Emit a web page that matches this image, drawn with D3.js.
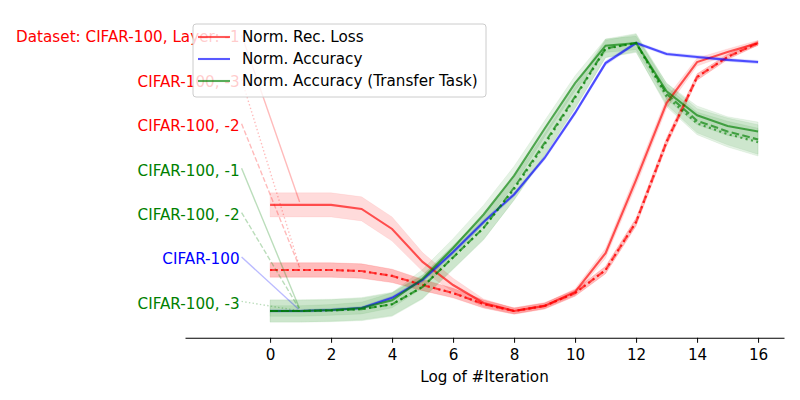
<!DOCTYPE html>
<html>
<head>
<meta charset="utf-8">
<script src="https://cdn.jsdelivr.net/npm/d3@7"></script>
<style>
  body { margin: 0; background: #fff; }
  text { font-family: "DejaVu Sans", sans-serif; }
</style>
</head>
<body>
<svg id="chart" width="800" height="400"></svg>
<script>
// --- DATA ---
const logIters = [0, 1, 2, 3, 4, 5, 6, 7, 8, 9, 10, 11, 12, 13, 14, 15, 16];
const xTicks = [0, 2, 4, 6, 8, 10, 12, 14, 16];

// normalized reconstruction loss, layers -1 / -2 / -3
const recLossL1 = [0.396, 0.396, 0.396, 0.381, 0.306, 0.183, 0.097, 0.030, 0.0, 0.019, 0.071, 0.216, 0.489, 0.776, 0.929, 0.966, 1.0];
const recLossL1Std = [0.045, 0.045, 0.045, 0.045, 0.045, 0.035, 0.025, 0.015, 0.010, 0.010, 0.012, 0.018, 0.022, 0.020, 0.015, 0.012, 0.010];
const recLossL2 = [0.153, 0.153, 0.153, 0.149, 0.131, 0.097, 0.067, 0.026, 0.0, 0.019, 0.067, 0.153, 0.332, 0.631, 0.873, 0.948, 1.0];
const recLossL2Std = [0.027, 0.027, 0.027, 0.027, 0.025, 0.021, 0.018, 0.015, 0.012, 0.012, 0.012, 0.014, 0.015, 0.015, 0.012, 0.010, 0.008];
const recLossL3 = [0.153, 0.153, 0.153, 0.149, 0.131, 0.097, 0.067, 0.026, 0.0, 0.019, 0.067, 0.153, 0.332, 0.631, 0.873, 0.948, 1.0];
const recLossL3Std = [0.027, 0.027, 0.027, 0.027, 0.025, 0.021, 0.018, 0.015, 0.012, 0.012, 0.012, 0.014, 0.015, 0.015, 0.012, 0.010, 0.008];

// normalized accuracy on the source task
const accSource = [0.0, 0.0, 0.004, 0.011, 0.049, 0.116, 0.220, 0.332, 0.435, 0.571, 0.739, 0.925, 1.0, 0.959, 0.948, 0.937, 0.929];
const accSourceStd = [0.006, 0.006, 0.006, 0.006, 0.007, 0.008, 0.008, 0.008, 0.008, 0.008, 0.008, 0.008, 0.006, 0.006, 0.006, 0.006, 0.006];

// normalized accuracy on the transfer task, layers -1 / -2 / -3
const accTransferL1 = [0.0, 0.0, 0.004, 0.011, 0.040, 0.120, 0.235, 0.360, 0.505, 0.680, 0.850, 0.990, 1.0, 0.820, 0.730, 0.690, 0.670];
const accTransferL1Std = [0.020, 0.020, 0.020, 0.022, 0.028, 0.035, 0.035, 0.035, 0.035, 0.030, 0.028, 0.025, 0.025, 0.030, 0.035, 0.035, 0.035];
const accTransferL2 = [0.0, 0.0, 0.002, 0.007, 0.025, 0.090, 0.200, 0.310, 0.460, 0.627, 0.800, 0.980, 1.0, 0.810, 0.710, 0.670, 0.640];
const accTransferL2Std = [0.042, 0.042, 0.042, 0.043, 0.045, 0.045, 0.045, 0.045, 0.045, 0.045, 0.042, 0.035, 0.035, 0.040, 0.045, 0.050, 0.055];
const accTransferL3 = [0.0, 0.0, 0.002, 0.007, 0.025, 0.090, 0.200, 0.310, 0.455, 0.620, 0.795, 0.978, 1.0, 0.800, 0.700, 0.660, 0.630];
const accTransferL3Std = [0.040, 0.040, 0.040, 0.040, 0.042, 0.042, 0.042, 0.042, 0.042, 0.042, 0.040, 0.032, 0.032, 0.038, 0.042, 0.048, 0.052];

const legendLabels = ["Norm. Rec. Loss", "Norm. Accuracy", "Norm. Accuracy (Transfer Task)"];
const annotationTexts = [
  "Dataset: CIFAR-100, Layer: -1",
  "CIFAR-100, -3",
  "CIFAR-100, -2",
  "CIFAR-100, -1",
  "CIFAR-100, -2",
  "CIFAR-100",
  "CIFAR-100, -3"
];

// --- SETUP ---
const svg = d3.select("#chart");
const FONT = "15.2px";
const DASHES = { solid: null, dashed: "7.7,3.3", dotted: "2.1,3.4" };
const THIN_DASHES = { solid: null, dashed: "5,2.2", dotted: "1.4,2.3" };
const RED = "#ff0000", BLUE = "#0000ff", GREEN = "#008000";

const series = [
  { key: "recL1", values: recLossL1, std: recLossL1Std, color: RED, style: "solid" },
  { key: "recL2", values: recLossL2, std: recLossL2Std, color: RED, style: "dashed" },
  { key: "recL3", values: recLossL3, std: recLossL3Std, color: RED, style: "dotted" },
  { key: "acc", values: accSource, std: accSourceStd, color: BLUE, style: "solid" },
  { key: "trL1", values: accTransferL1, std: accTransferL1Std, color: GREEN, style: "solid" },
  { key: "trL2", values: accTransferL2, std: accTransferL2Std, color: GREEN, style: "dashed" },
  { key: "trL3", values: accTransferL3, std: accTransferL3Std, color: GREEN, style: "dotted" }
];
const byKey = Object.fromEntries(series.map(s => [s.key, s]));

// annotation order matches the label column on the left
const annotations = [
  { text: annotationTexts[0], s: "recL1" },
  { text: annotationTexts[1], s: "recL3" },
  { text: annotationTexts[2], s: "recL2" },
  { text: annotationTexts[3], s: "trL1" },
  { text: annotationTexts[4], s: "trL2" },
  { text: annotationTexts[5], s: "acc" },
  { text: annotationTexts[6], s: "trL3" }
];

const x = d3.scaleLinear().domain([-2.79, 16.85]).range([185, 784]);
const y = d3.scaleLinear().domain([0, 1]).range([311, 43]);
const axisY = y(-0.1);

// --- BANDS ---
const area = d3.area()
  .x((d, i) => x(logIters[i]))
  .y0(d => y(d[0]))
  .y1(d => y(d[1]));

svg.append("g").selectAll("path")
  .data(series)
  .join("path")
  .attr("d", s => area(s.values.map((v, i) => [v - s.std[i], v + s.std[i]])))
  .attr("fill", s => s.color)
  .attr("fill-opacity", s => s.color === GREEN ? 0.1 : 0.14)
  .attr("stroke", s => s.color)
  .attr("stroke-opacity", 0.06);

// --- LINES ---
const line = d3.line()
  .x((d, i) => x(logIters[i]))
  .y(d => y(d));

svg.append("g").selectAll("path")
  .data(series)
  .join("path")
  .attr("d", s => line(s.values))
  .attr("fill", "none")
  .attr("stroke", s => s.color)
  .attr("stroke-opacity", 0.65)
  .attr("stroke-width", 2.1)
  .attr("stroke-dasharray", s => DASHES[s.style]);

// --- X AXIS ---
svg.append("g")
  .attr("transform", `translate(0,${axisY})`)
  .call(d3.axisBottom(x).tickValues(xTicks).tickSizeInner(5).tickSizeOuter(0).tickFormat(d3.format("d")))
  .call(g => g.select(".domain").attr("stroke", "#000").attr("stroke-width", 1.1))
  .call(g => g.selectAll(".tick line").attr("stroke", "#000"))
  .call(g => g.selectAll(".tick text")
    .attr("y", 22)
    .attr("dy", null)
    .attr("font-size", FONT)
    .attr("font-family", "DejaVu Sans, sans-serif")
    .attr("fill", "#000"));

svg.append("text")
  .attr("x", (x.range()[0] + x.range()[1]) / 2)
  .attr("y", 382)
  .attr("text-anchor", "middle")
  .attr("font-size", FONT)
  .text("Log of #Iteration");

// --- ANNOTATIONS ---
const annG = svg.append("g");
const labelRight = x(-1);
annotations.forEach((a, i) => {
  const s = byKey[a.s];
  const cy = 37 + i * 44.4;
  const t = annG.append("text")
    .attr("x", labelRight)
    .attr("y", cy)
    .attr("dy", "0.35em")
    .attr("text-anchor", "end")
    .attr("font-size", FONT)
    .attr("fill", s.color)
    .text(a.text);
  const bb = t.node().getBBox();
  // line leaves from the right edge of the label and stops just short of the curve at x = 1
  const x0 = bb.x + bb.width + 2, y0 = cy - 2;
  const tx = x(logIters[1]), ty = y(s.values[1]);
  const len = Math.hypot(tx - x0, ty - y0);
  const x1 = tx - (tx - x0) / len * 3, y1 = ty - (ty - y0) / len * 3;
  annG.append("line")
    .attr("x1", x0).attr("y1", y0)
    .attr("x2", x1).attr("y2", y1)
    .attr("stroke", s.color)
    .attr("stroke-opacity", 0.27)
    .attr("stroke-width", 1.4)
    .attr("stroke-dasharray", THIN_DASHES[s.style]);
});

// --- LEGEND ---
const legend = svg.append("g").attr("transform", "translate(193,24)");
legend.append("rect")
  .attr("width", 293).attr("height", 73)
  .attr("rx", 3)
  .attr("fill", "#fff").attr("fill-opacity", 0.8)
  .attr("stroke", "#cccccc").attr("stroke-width", 1);
const legendColors = [RED, BLUE, GREEN];
legendLabels.forEach((lab, i) => {
  const ly = 13 + i * 22;
  legend.append("line")
    .attr("x1", 5).attr("x2", 37)
    .attr("y1", ly).attr("y2", ly)
    .attr("stroke", legendColors[i])
    .attr("stroke-opacity", 0.65)
    .attr("stroke-width", 2.1);
  legend.append("text")
    .attr("x", 49).attr("y", ly)
    .attr("dy", "0.35em")
    .attr("font-size", FONT)
    .attr("fill", "#000")
    .text(lab);
});
</script>
</body>
</html>
